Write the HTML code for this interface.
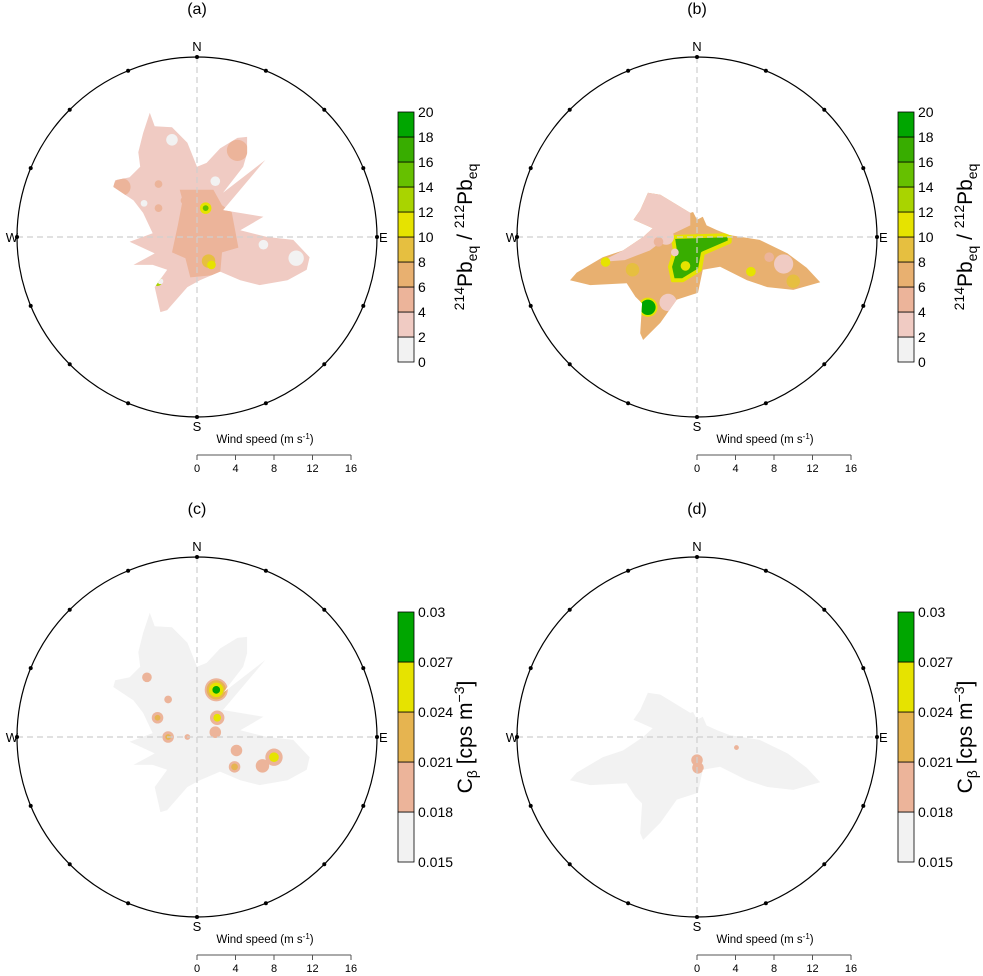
<!DOCTYPE html>
<html><head><meta charset="utf-8">
<style>
html,body{margin:0;padding:0;background:#fff;}
svg{display:block;font-family:"Liberation Sans",sans-serif;}
</style></head>
<body>
<svg id="fig" width="983" height="976" viewBox="0 0 983 976" xmlns="http://www.w3.org/2000/svg"></svg>
<script>
// ---- data ----
const ratioBreaks = [0,2,4,6,8,10,12,14,16,18,20];
const ratioColors = ["#f2f2f2","#f0cbc3","#ecb49a","#e8b070","#e6bf40","#e6e300","#a9d400","#66c000","#38ad00","#00a600"];
const cbBreaks = [0.015,0.018,0.021,0.024,0.027,0.03];
const cbTickLabels = ["0.015","0.018","0.021","0.024","0.027","0.03"];
const cbColors = ["#f2f2f2","#ecb49a","#e6b450","#e6e300","#00a600"];
const speedTicks = [0,4,8,12,16];
const compassLabels = ["N","E","S","W"];

// outline of the site A surface: wind u,v components (m/s)
const outlineA_u = [-4.9,-4.4,-2.6,-1.0,0,1.0,2.4,4.2,5.2,5.2,4.8,2.7,7.1,2.7,6.9,4.5,7.3,10.0,11.7,11.4,9.4,6.5,4.5,2.4,0.3,-1.0,-3.1,-3.8,-4.4,-3.1,-4.6,-6.6,-4.4,-7.0,-4.6,-5.6,-6.6,-8.7,-8.5,-7.0,-5.9,-6.1,-5.6];
const outlineA_v = [12.9,11.5,11.4,9.8,7.3,7.7,9.2,10.3,10.4,8.7,7.3,4.6,8.0,2.8,2.1,0.7,0,-0.3,-2.1,-3.4,-4.5,-5.0,-4.5,-3.6,-4.5,-5.2,-7.6,-7.8,-5.2,-3.4,-2.9,-2.9,-1.7,-0.5,0.4,2.5,3.8,5.2,5.9,6.2,7.3,8.8,10.8];
// elevated-ratio column in panel (a)
const columnA_u = [-1.8,1.7,2.6,3.6,4.3,2.6,2.4,-0.7,-1.2,-2.6,-2.0,-1.5];
const columnA_v = [4.9,4.9,3.3,2.6,-1.1,-1.6,-3.9,-4.2,-2.2,-1.6,1.2,3.8];
// outline of the site B surface
const outlineB_u = [-5.1,-3.8,-0.7,-0.4,0,0.6,1.0,2.1,3.4,6.5,9.4,11.4,12.8,10.0,7.3,5.2,2.4,0.6,0.1,-2.1,-3.8,-5.6,-5.9,-5.7,-6.4,-7.3,-11.1,-13.2,-12.5,-9.8,-7.7,-5.6,-4.6,-6.6,-5.9];
const outlineB_v = [4.6,4.4,2.5,2.6,1.8,2.1,1.2,0.7,0.2,-0.3,-1.7,-3.2,-4.7,-5.5,-5.2,-4.5,-3.1,-3.4,-5.8,-6.5,-8.9,-10.7,-10.0,-6.9,-6.2,-4.8,-5.0,-4.5,-3.7,-2.1,-1.4,0,0.9,1.8,2.8];
// low-ratio region in panel (b)
const pinkB_u = [-5.1,-3.8,-0.7,-0.7,-2.8,-4.9,-7.5,-10.1,-7.7,-5.6,-4.6,-6.6,-5.9];
const pinkB_v = [4.6,4.4,2.5,1.2,0.2,-1.4,-2.4,-2.6,-1.4,0,0.9,1.8,2.8];
// green core region in panel (b)
const coreB_u = [-2.5,3.4,3.4,0.6,0.3,-1.5,-2.5,-2.8,-2.3];
const coreB_v = [0,0.2,-0.5,-1.7,-3.4,-4.5,-4.5,-3.1,-1.4];

// hotspots: u, v, radius (m/s), colour level index
const blobsA_u = [4.2,-7.8,-4.0,-4.0,-1.3,0.9,0.9,1.2,1.5,-4.1,-2.6,1.9,10.3,6.9,-3.8,-5.5,-1.0];
const blobsA_v = [9.0,5.2,5.5,3.0,3.8,3.0,3.0,-2.5,-2.9,-4.6,10.1,5.8,-2.2,-0.8,-4.6,3.5,-0.5];
const blobsA_r = [1.1,0.9,0.4,0.4,0.4,0.6,0.3,0.7,0.45,0.5,0.6,0.5,0.8,0.5,0.3,0.35,0.4];
const blobsA_l = [2,2,2,2,2,5,7,4,5,6,0,0,0,0,0,0,2];

const blobsB_u = [-3.2,-9.5,-3.0,-5.1,-5.1,9.0,0.8,-2.3,7.5,5.6,-6.7,-1.2,-4.0,10.0];
const blobsB_v = [0.0,-2.6,-6.8,-7.3,-7.3,-2.8,-6.6,-1.6,-2.1,-3.6,-3.4,-3.0,-0.5,-4.6];
const blobsB_r = [0.8,0.5,0.9,1.0,0.8,1.0,0.7,0.4,0.5,0.5,0.7,0.5,0.5,0.7];
const blobsB_l = [1,5,1,5,9,1,4,1,2,5,4,5,2,4];

const blobsC_u = [-5.2,-3.0,-4.1,-4.1,-3.0,-3.0,-1.0,2.0,2.0,2.0,2.0,2.1,2.1,1.9,4.1,3.9,3.9,6.8,8.0,8.0];
const blobsC_v = [6.2,3.9,2.0,2.0,0,0,0,4.9,4.9,4.9,4.9,2.0,2.0,0.5,-1.4,-3.1,-3.1,-3.0,-2.1,-2.1];
const blobsC_r = [0.5,0.4,0.6,0.3,0.6,0.3,0.3,1.2,1.0,0.75,0.4,0.75,0.4,0.6,0.6,0.6,0.35,0.7,0.9,0.5];
const blobsC_l = [1,1,1,2,1,2,1,1,2,3,4,1,3,1,1,1,2,1,1,3];

const blobsD_u = [0.0,0.1,4.1];
const blobsD_v = [-2.4,-3.2,-1.1];
const blobsD_r = [0.6,0.6,0.25];
const blobsD_l = [1,1,1];

// ---- drawing ----
const NS = "http://www.w3.org/2000/svg";
const svg = document.getElementById("fig");
const PX_PER_MS = 9.625, R = 180;
function mk(tag, attrs, parent){
  const e = document.createElementNS(NS, tag);
  for (const k in attrs) e.setAttribute(k, attrs[k]);
  (parent||svg).appendChild(e);
  return e;
}
function xs(cx,u){return cx + u*PX_PER_MS;}
function ys(cy,v){return cy - v*PX_PER_MS;}
function polyPts(cx,cy,us,vs){return us.map((u,i)=>xs(cx,u).toFixed(1)+","+ys(cy,vs[i]).toFixed(1)).join(" ");}

function panel(id, cx, cy, letter, baseColor, ou, ov, regions, bu, bv, br, bl, colors, tickLabels, cbType){
  const g = mk("g", {});
  
  
  const t = mk("text", {x:cx, y:cy-223, "font-size":16, "text-anchor":"middle"}, g);
  
  
  t.textContent = "(" + letter + ")";

  const clip = mk("clipPath", {id:"clip"+id}, g);
  mk("polygon", {points: polyPts(cx,cy,ou,ov)}, clip);
  const surf = mk("polygon", {points: polyPts(cx,cy,ou,ov), fill: baseColor}, g);
  
  
  const bg = mk("g", {"clip-path":"url(#clip"+id+")"}, g);
  regions.forEach(rg=>{
    const p = mk("polygon", {points: polyPts(cx,cy,rg.u,rg.v), fill: colors[rg.l], stroke: rg.s!==undefined?colors[rg.s]:"none", "stroke-width":4, "stroke-linejoin":"round"}, bg);
    
    
  });
  bu.forEach((u,i)=>{
    const c = mk("circle", {cx: xs(cx,u), cy: ys(cy,bv[i]), r: br[i]*PX_PER_MS, fill: colors[bl[i]]}, bg);
    
    
  });

  const h = mk("line", {x1:cx-R, y1:cy, x2:cx+R, y2:cy, stroke:"#cfcfcf", "stroke-dasharray":"6,4", "stroke-width":1.2}, g);
  
  
  const v = mk("line", {x1:cx, y1:cy-R, x2:cx, y2:cy+R, stroke:"#cfcfcf", "stroke-dasharray":"6,4", "stroke-width":1.2}, g);
  
  

  const circ = mk("circle", {cx:cx, cy:cy, r:R, fill:"none", stroke:"#000", "stroke-width":1.2}, g);
  
  
  for (let k=0;k<16;k++){
    const a = k*22.5*Math.PI/180;
    const d = mk("circle", {cx: cx+R*Math.sin(a), cy: cy-R*Math.cos(a), r:2, fill:"#000"}, g);
    
    
  }
  const lp = [[cx, cy-R-6, "middle"],[cx+R+2, cy+5, "start"],[cx, cy+R+14, "middle"],[cx-R+1, cy+5, "end"]];
  compassLabels.forEach((s,i)=>{
    const tx = mk("text", {x:lp[i][0], y:lp[i][1], "font-size":13, "text-anchor":lp[i][2]}, g);
    
    
    tx.textContent = s;
  });

  const ay = cy + 218;
  const wl = mk("text", {x:cx+68, y:ay-12, "font-size":11.5, "text-anchor":"middle"}, g);
  
  
  wl.innerHTML = 'Wind speed (m s<tspan font-size="8" dy="-4">-1</tspan><tspan dy="4">)</tspan>';
  const al = mk("line", {x1:cx, y1:ay, x2:xs(cx,speedTicks[speedTicks.length-1]), y2:ay, stroke:"#555"}, g);
  
  
  speedTicks.forEach(s=>{
    const tk = mk("line", {x1:xs(cx,s), y1:ay, x2:xs(cx,s), y2:ay+5, stroke:"#555"}, g);
    
    
    const tl = mk("text", {x:xs(cx,s), y:ay+17, "font-size":11, "text-anchor":"middle"}, g);
    
    
    tl.textContent = s;
  });

  const bx = cx+201, top = cy-125, bot = cy+125, n = colors.length;
  const bh = (bot-top)/n;
  colors.forEach((c,i)=>{
    const r = mk("rect", {x:bx, y:bot-(i+1)*bh, width:16, height:bh, fill:c, stroke:"#000", "stroke-width":0.8}, g);
    
    
  });
  tickLabels.forEach((lab,i)=>{
    const tl = mk("text", {x:bx+20, y:bot - i*bh + 5, "font-size":14}, g);
    
    
    tl.textContent = lab;
  });
  const lt = mk("text", {x:0, y:0, "font-size":21, "text-anchor":"middle", transform:"translate("+(bx+74)+","+cy+") rotate(-90)"}, g);
  
  
  if (cbType === "ratio") {
    lt.innerHTML = '<tspan font-size="14" dy="-8">214</tspan><tspan dy="8">Pb</tspan><tspan font-size="14" dy="5">eq</tspan><tspan dy="-5"> / </tspan><tspan font-size="14" dy="-8">212</tspan><tspan dy="8">Pb</tspan><tspan font-size="14" dy="5">eq</tspan>';
  } else {
    lt.innerHTML = 'C<tspan font-size="14" dy="5">β</tspan><tspan dy="-5"> [cps m</tspan><tspan font-size="14" dy="-8">−3</tspan><tspan dy="8">]</tspan>';
  }
}

const ratioLabels = ratioBreaks.map(String);
panel("a", 197, 237, "a", ratioColors[1], outlineA_u, outlineA_v,
  [{u:columnA_u, v:columnA_v, l:2}],
  blobsA_u, blobsA_v, blobsA_r, blobsA_l, ratioColors, ratioLabels, "ratio");
panel("b", 697, 237, "b", ratioColors[3], outlineB_u, outlineB_v,
  [{u:pinkB_u, v:pinkB_v, l:1}, {u:coreB_u, v:coreB_v, l:8, s:5}],
  blobsB_u, blobsB_v, blobsB_r, blobsB_l, ratioColors, ratioLabels, "ratio");
panel("c", 197, 737, "c", cbColors[0], outlineA_u, outlineA_v, [],
  blobsC_u, blobsC_v, blobsC_r, blobsC_l, cbColors, cbTickLabels, "cb");
panel("d", 697, 737, "d", cbColors[0], outlineB_u, outlineB_v, [],
  blobsD_u, blobsD_v, blobsD_r, blobsD_l, cbColors, cbTickLabels, "cb");
</script>
</body></html>
